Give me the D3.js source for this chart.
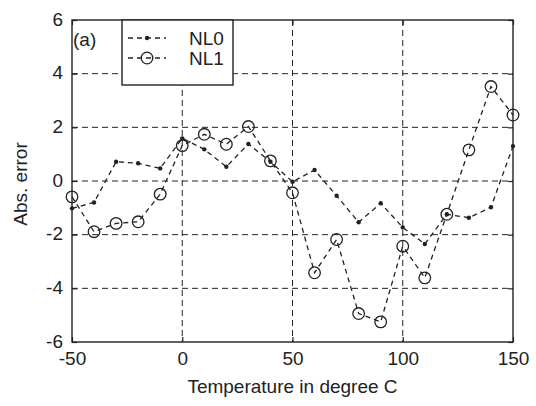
<!DOCTYPE html>
<html>
<head>
<meta charset="utf-8">
<script src="https://cdn.jsdelivr.net/npm/d3@7"></script>
<style>
  html, body { margin: 0; padding: 0; background: #fff; }
  svg { display: block; }
  text { font-family: "Liberation Sans", Arial, sans-serif; fill: #222; }
</style>
</head>
<body>
<svg id="chart" width="536" height="406"></svg>
<script>
// Temperature sweep (degree C)
const temperature = [-50, -40, -30, -20, -10, 0, 10, 20, 30, 40, 50, 60, 70, 80, 90, 100, 110, 120, 130, 140, 150];
// Absolute error of the two linearisation schemes
const nl0 = [-1.02, -0.80, 0.72, 0.66, 0.47, 1.59, 1.18, 0.53, 1.38, 0.72, -0.03, 0.41, -0.55, -1.54, -0.83, -1.73, -2.35, -1.24, -1.37, -0.98, 1.30];
const nl1 = [-0.59, -1.89, -1.58, -1.52, -0.49, 1.32, 1.74, 1.37, 2.03, 0.75, -0.44, -3.42, -2.18, -4.94, -5.25, -2.43, -3.61, -1.24, 1.16, 3.52, 2.46];
// Axis ticks
const xTicks = [-50, 0, 50, 100, 150];
const yTicks = [-6, -4, -2, 0, 2, 4, 6];
const seriesNames = ["NL0", "NL1"];

const svg = d3.select("#chart");
const L = 72, R = 513, T = 20, B = 342;
const ink = "#222";
const plain = d => String(d); // hyphen-minus labels

const x = d3.scaleLinear().domain([-50, 150]).range([L, R]);
const y = d3.scaleLinear().domain([-6, 6]).range([B, T]);

// Grid
const grid = svg.append("g").attr("stroke", ink).attr("stroke-width", 1)
  .attr("stroke-dasharray", "6,4").attr("fill", "none");
xTicks.slice(1, -1).forEach(v => {
  grid.append("line").attr("x1", x(v)).attr("x2", x(v)).attr("y1", T).attr("y2", B);
});
yTicks.slice(1, -1).forEach(v => {
  grid.append("line").attr("x1", L).attr("x2", R).attr("y1", y(v)).attr("y2", y(v));
});

// Axes with inward ticks on all four sides
const tickLen = 5;
const fontSize = 19;
const axBottom = svg.append("g").attr("transform", `translate(0,${B})`)
  .call(d3.axisBottom(x).tickValues(xTicks).tickSizeInner(-tickLen).tickSizeOuter(0).tickPadding(10).tickFormat(plain));
const axLeft = svg.append("g").attr("transform", `translate(${L},0)`)
  .call(d3.axisLeft(y).tickValues(yTicks).tickSizeInner(-tickLen).tickSizeOuter(0).tickPadding(9).tickFormat(plain));
const axTop = svg.append("g").attr("transform", `translate(0,${T})`)
  .call(d3.axisTop(x).tickValues(xTicks).tickSizeInner(-tickLen).tickSizeOuter(0).tickFormat(""));
const axRight = svg.append("g").attr("transform", `translate(${R},0)`)
  .call(d3.axisRight(y).tickValues(yTicks).tickSizeInner(-tickLen).tickSizeOuter(0).tickFormat(""));
[axBottom, axLeft, axTop, axRight].forEach(g => {
  g.select(".domain").remove();
  g.selectAll("line").attr("stroke", ink).attr("stroke-width", 1.2);
  g.selectAll("text").attr("font-size", fontSize).attr("fill", ink)
    .attr("font-family", "'Liberation Sans', Arial, sans-serif");
});
axLeft.selectAll("text").attr("dy", "0.28em");

// Box
svg.append("rect").attr("x", L).attr("y", T).attr("width", R - L).attr("height", B - T)
  .attr("fill", "none").attr("stroke", ink).attr("stroke-width", 1.4);

// Series
const line = d3.line().x((d, i) => x(temperature[i])).y(d => y(d));
const dash = "5,4";
svg.append("path").datum(nl0).attr("d", line).attr("fill", "none")
  .attr("stroke", ink).attr("stroke-width", 1.3).attr("stroke-dasharray", dash);
svg.append("g").selectAll("circle").data(nl0).join("circle")
  .attr("cx", (d, i) => x(temperature[i])).attr("cy", d => y(d)).attr("r", 2.2).attr("fill", ink);

svg.append("path").datum(nl1).attr("d", line).attr("fill", "none")
  .attr("stroke", ink).attr("stroke-width", 1.3).attr("stroke-dasharray", dash);
svg.append("g").selectAll("circle").data(nl1).join("circle")
  .attr("cx", (d, i) => x(temperature[i])).attr("cy", d => y(d)).attr("r", 5.8)
  .attr("fill", "none").attr("stroke", ink).attr("stroke-width", 1.3);

// Panel tag
svg.append("text").attr("x", L + 1).attr("y", 46).attr("font-size", fontSize).text("(a)");

// Legend
const lg = svg.append("g");
lg.append("rect").attr("x", 122).attr("y", T).attr("width", 111).attr("height", 65)
  .attr("fill", "#fff").attr("stroke", ink).attr("stroke-width", 1.4);
const rows = [38, 58];
rows.forEach((ry, k) => {
  lg.append("line").attr("x1", 128).attr("x2", 166).attr("y1", ry).attr("y2", ry)
    .attr("stroke", ink).attr("stroke-width", 1.3).attr("stroke-dasharray", dash);
  if (k === 0) {
    lg.append("circle").attr("cx", 147).attr("cy", ry).attr("r", 2.2).attr("fill", ink);
  } else {
    lg.append("circle").attr("cx", 147).attr("cy", ry).attr("r", 5.8)
      .attr("fill", "none").attr("stroke", ink).attr("stroke-width", 1.3);
  }
  lg.append("text").attr("x", 189).attr("y", ry).attr("dy", "0.35em")
    .attr("font-size", fontSize).text(seriesNames[k]);
});

// Axis titles
svg.append("text").attr("x", (L + R) / 2).attr("y", 393).attr("text-anchor", "middle")
  .attr("font-size", fontSize).text("Temperature in degree C");
svg.append("text").attr("transform", `translate(27,${(T + B) / 2 + 3}) rotate(-90)`)
  .attr("text-anchor", "middle").attr("font-size", fontSize).text("Abs. error");
</script>
</body>
</html>
